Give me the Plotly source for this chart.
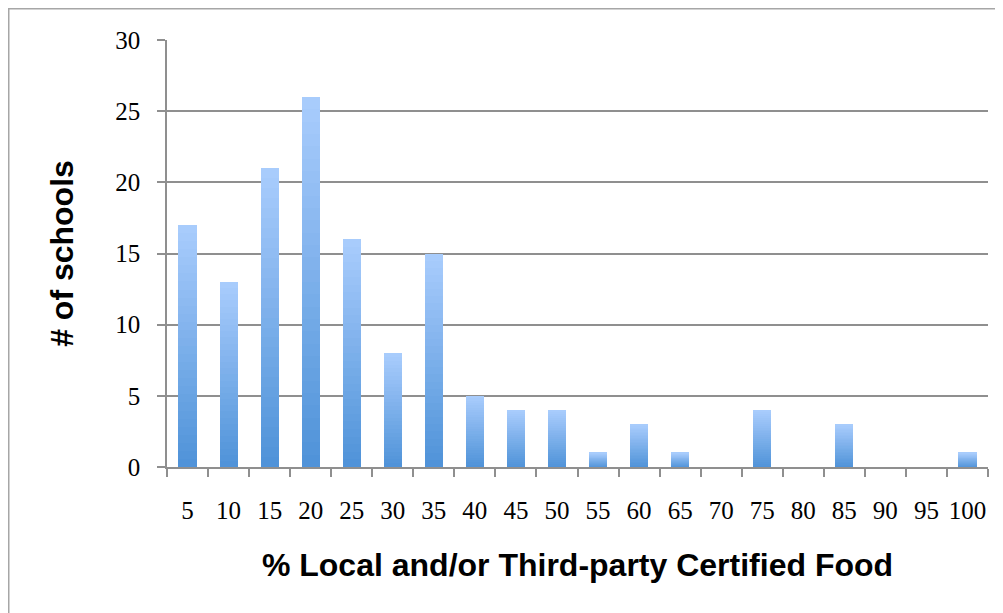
import plotly.graph_objects as go

categories = ["5", "10", "15", "20", "25", "30", "35", "40", "45", "50",
              "55", "60", "65", "70", "75", "80", "85", "90", "95", "100"]
schools = [17, 13, 21, 26, 16, 8, 15, 5, 4, 4, 1, 3, 1, 0, 4, 0, 3, 0, 0, 1]
y_ticks = [0, 5, 10, 15, 20, 25, 30]

top_rgb = (170, 205, 253)
bot_rgb = (78, 146, 216)
N = 30

fig = go.Figure()
for k in range(N):
    f = (k + 0.5) / N
    c = tuple(round(b + (t - b) * f) for b, t in zip(bot_rgb, top_rgb))
    fig.add_trace(go.Bar(
        x=categories,
        y=[v / N for v in schools],
        marker=dict(color="rgb(%d,%d,%d)" % c, line=dict(width=0)),
        showlegend=False,
        hoverinfo="skip",
    ))

OFF = 8  # page body margin
W, H = 1003 - OFF, 613 - OFF
L, T = 167 - OFF, 40 - OFF
R = W - (988 - OFF)
B = H - (467 - OFF)
pw, ph = W - L - R, H - T - B

def fx(fig_px):
    return (fig_px - L) / pw

def fy(fig_py):
    return (H - B - fig_py) / ph

fig.add_shape(type="rect", xref="paper", yref="paper",
              x0=fx(0.75), x1=fx(W + 20),
              y0=fy(H + 20), y1=fy(0.75),
              line=dict(color="#a6a6a6", width=1.5), layer="below")

grid = "#8f8f8f"
fig.update_layout(
    width=W, height=H,
    margin=dict(l=L, r=R, t=T, b=B),
    paper_bgcolor="white", plot_bgcolor="white",
    barmode="stack", bargap=0.56,
    xaxis=dict(
        type="category",
        tickvals=categories, ticktext=categories,
        tickson="boundaries", ticks="outside", ticklen=8, tickcolor=grid, tickwidth=1.5,
        showline=True, linecolor=grid, linewidth=1.5,
        showgrid=False, tickangle=0,
        tickfont=dict(family="Liberation Serif", size=25, color="black"),
        ticklabelstandoff=20,
        title=dict(text="% Local and/or Third-party Certified Food",
                   font=dict(family="Liberation Sans", size=32, color="black", weight="bold"),
                   standoff=31),
    ),
    yaxis=dict(
        range=[0, 30], tickvals=y_ticks,
        ticks="outside", ticklen=8, tickcolor=grid, tickwidth=1.5,
        showline=True, linecolor=grid, linewidth=1.5,
        showgrid=True, gridcolor=grid, gridwidth=1.5,
        tickfont=dict(family="Liberation Serif", size=25, color="black"),
        ticklabelstandoff=12,
        title=dict(text="# of schools",
                   font=dict(family="Liberation Sans", size=32, color="black", weight="bold"),
                   standoff=32),
        zeroline=False,
    ),
)

fig.write_html("out.html")
